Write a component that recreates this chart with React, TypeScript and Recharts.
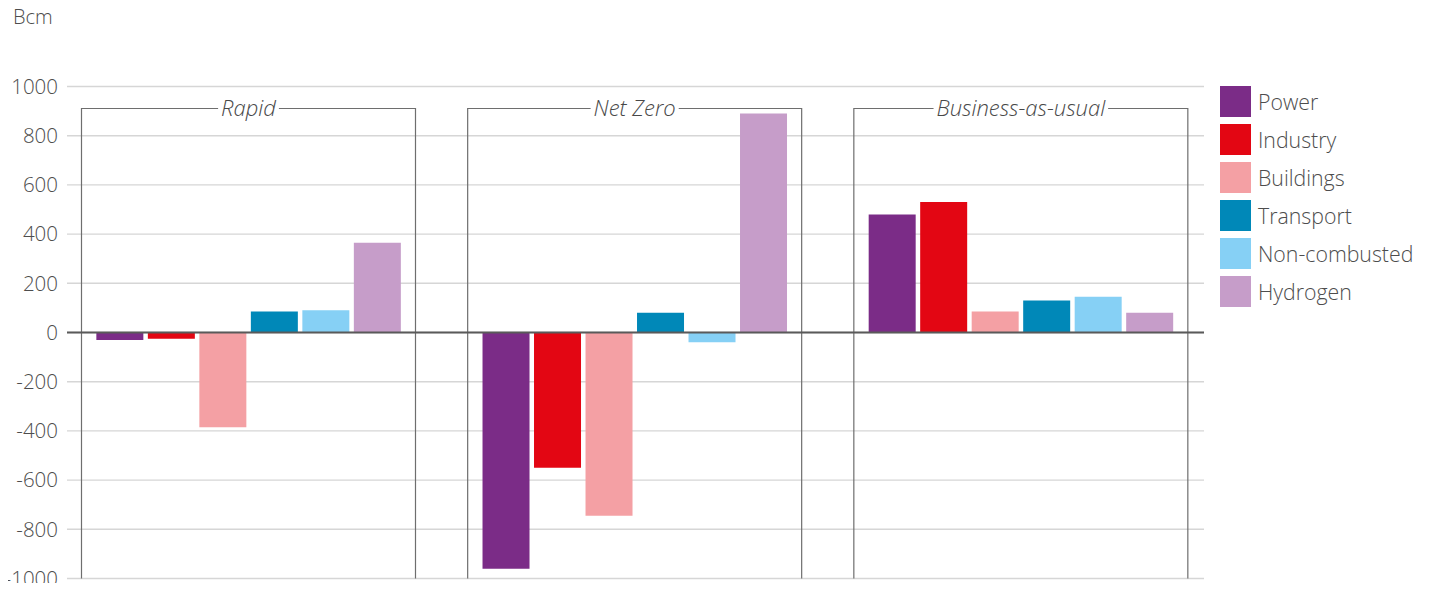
import React from 'react';
import { BarChart, Bar, XAxis, YAxis, CartesianGrid, ReferenceLine } from 'recharts';

const scenarios = ['Rapid', 'Net Zero', 'Business-as-usual'];
const sectors = ['Power', 'Industry', 'Buildings', 'Transport', 'Non-combusted', 'Hydrogen'];
const power = [-30, -960, 480];
const industry = [-25, -550, 530];
const buildings = [-385, -745, 85];
const transport = [85, 80, 130];
const nonCombusted = [90, -40, 145];
const hydrogen = [365, 890, 80];
const yTicks = [-1000, -800, -600, -400, -200, 0, 200, 400, 600, 800, 1000];
const colors = ['#7B2C87', '#E30613', '#F4A0A4', '#0088B8', '#86D0F5', '#C69DC9'];

const seriesValues = [power, industry, buildings, transport, nonCombusted, hydrogen];
const data = scenarios.map((s, i) => {
  const row: Record<string, any> = { scenario: s };
  sectors.forEach((k, j) => {
    row[k] = seriesValues[j][i];
  });
  return row;
});

const FONT = '"Open Sans", Roboto, "Liberation Sans", sans-serif';
const TITLE_SIZE = 22;

let measureCtx: CanvasRenderingContext2D | null = null;
const measure = (text: string) => {
  if (typeof document === 'undefined') return text.length * TITLE_SIZE * 0.5;
  if (!measureCtx) measureCtx = document.createElement('canvas').getContext('2d');
  if (!measureCtx) return text.length * TITLE_SIZE * 0.5;
  measureCtx.font = `italic 300 ${TITLE_SIZE}px ${FONT}`;
  return measureCtx.measureText(text).width;
};

const BoxShape = (props: any) => {
  const { x, y, width, height, payload } = props;
  const top = y + 22;
  const bottom = y + height;
  const cx = x + width / 2;
  const half = measure(payload.scenario) / 2 + 3;
  return (
    <g>
      <path
        d={`M${cx - half},${top}H${x}V${bottom}M${cx + half},${top}H${x + width}V${bottom}`}
        fill="none"
        stroke="#6e6e6e"
        strokeWidth={1.2}
      />
      <text
        x={cx}
        y={top}
        dy="0.35em"
        textAnchor="middle"
        fontStyle="italic"
        fontWeight={300}
        fontSize={TITLE_SIZE}
        fontFamily={FONT}
        fill="#484848"
      >
        {payload.scenario}
      </text>
    </g>
  );
};

export default function App() {
  return (
    <div style={{ position: 'relative', width: 1413, height: 575, fontFamily: FONT, fontWeight: 300 }}>
      <style>{'.recharts-surface{overflow:visible}'}</style>
      <div
        style={{
          position: 'absolute',
          left: 5,
          top: -1,
          fontSize: 20,
          lineHeight: '20px',
          color: '#4d4d4d',
        }}
      >
        Bcm
      </div>
      <BarChart
        width={1413}
        height={575}
        data={data}
        margin={{ top: 78.5, right: 217, bottom: 4.5, left: 0 }}
        barCategoryGap={40.85}
        barGap={4.5}
      >
        <CartesianGrid vertical={false} stroke="#d6d6d6" strokeWidth={1.4} />
        <XAxis dataKey="scenario" hide padding={{ left: -11.5, right: -10 }} />
        <XAxis xAxisId="box" dataKey="scenario" hide padding={{ left: -11.5, right: -10 }} />
        <YAxis
          domain={[-1000, 1000]}
          ticks={yTicks}
          width={59}
          axisLine={false}
          tickLine={false}
          tickSize={0}
          tickMargin={9}
          interval={0}
          tick={{ fontSize: 20.5, fill: '#4d4d4d', fontFamily: FONT, fontWeight: 300 }}
        />
        <Bar
          xAxisId="box"
          dataKey={() => [-1000, 1000]}
          barSize={334}
          shape={BoxShape}
          isAnimationActive={false}
          legendType="none"
        />
        {sectors.map((k, j) => (
          <Bar key={k} dataKey={k} fill={colors[j]} isAnimationActive={false} />
        ))}
        <ReferenceLine y={0} stroke="#5a5a5a" strokeWidth={2} />
      </BarChart>
      <div style={{ position: 'absolute', left: 1212, top: 78 }}>
        {sectors.map((k, j) => (
          <div
            key={k}
            style={{ display: 'flex', alignItems: 'center', height: 31, marginBottom: 7 }}
          >
            <div style={{ width: 31, height: 31, background: colors[j], marginRight: 7 }} />
            <span style={{ fontSize: 21.3, color: '#4d4d4d', whiteSpace: 'nowrap' }}>{k}</span>
          </div>
        ))}
      </div>
    </div>
  );
}
